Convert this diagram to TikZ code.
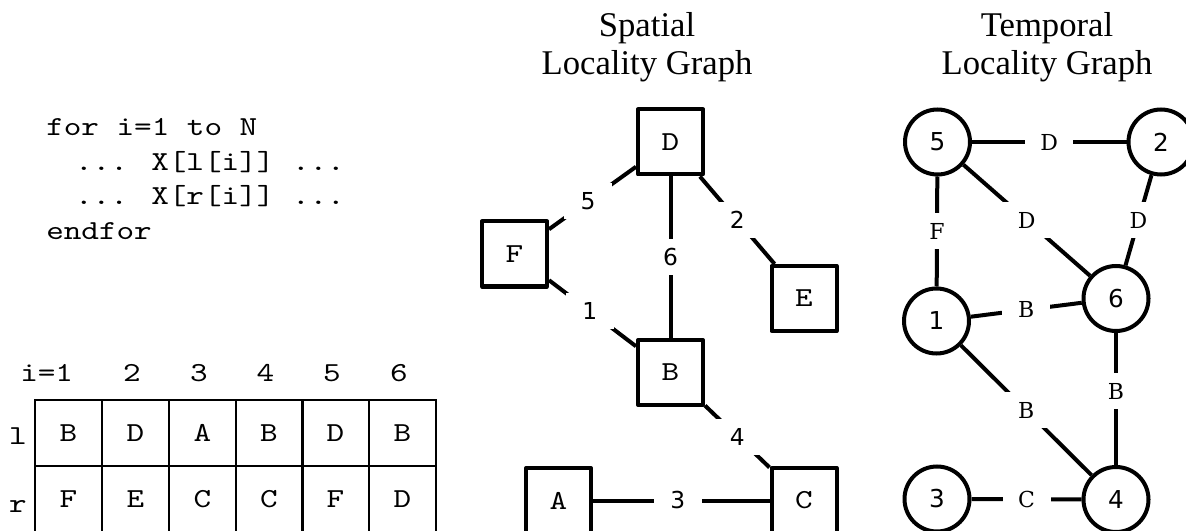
\documentclass[tikz,border=0pt]{standalone}
\usepackage{fontspec}
\newfontfamily\codefont[FakeStretch=1.22]{lmmono10-regular.otf}
\newfontfamily\headfont{Liberation Serif}
\newfontfamily\numfont{DejaVu Sans}
\newfontfamily\serlabfont{DejaVu Serif}
\newcommand\monosize{\fontsize{20.6}{24}\selectfont}
\begin{document}
\begin{tikzpicture}[x=0.75pt,y=-0.75pt,
  codeline/.style={font=\codefont\monosize, inner sep=0pt, anchor=base west},
  headtext/.style={font=\headfont\fontsize{26}{30}\selectfont, inner sep=0pt, anchor=base},
  monotext/.style={font=\codefont\monosize, inner sep=0pt, anchor=base},
  tabcell/.style={draw, line width=1.5pt, minimum width=50.25pt, minimum height=50pt,
    inner sep=0pt, font=\codefont\monosize},
  sqnode/.style={draw, fill=white, line width=3pt, line join=round, minimum size=48.75pt,
    inner sep=0pt, font=\codefont\monosize},
  cnode/.style={circle, draw, fill=white, line width=3pt, minimum size=48.75pt,
    inner sep=0pt, font=\numfont\fontsize{18.5}{22}\selectfont},
  conn/.style={line width=3pt},
  slabel/.style={fill=white, minimum width=36pt, minimum height=27pt, inner sep=0pt,
    font=\numfont\fontsize{17.5}{20}\selectfont},
  tlabel/.style={slabel, font=\serlabfont\fontsize{16.5}{19}\selectfont},
]
\useasboundingbox (0,0) rectangle (1186,531);

% loop code
\node[codeline] (c1) at (46,136) {for i=1 to N};
\node[codeline] (c2) at (46,170.5) {\hspace*{1.05em}... X[l[i]] ...};
\node[codeline] (c3) at (46,205) {\hspace*{1.05em}... X[r[i]] ...};
\node[codeline] (c4) at (46,239.5) {endfor};

% index table
\node[monotext] (h1) at (46.7,381) {i=1};
\node[monotext] (h2) at (132,381) {2};
\node[monotext] (h3) at (199,381) {3};
\node[monotext] (h4) at (265.5,381) {4};
\node[monotext] (h5) at (332,381) {5};
\node[monotext] (h6) at (399,381) {6};
\node[monotext] (rl) at (18,444) {l};
\node[monotext] (rr) at (18,512) {r};
\foreach \x/\a/\b [count=\i] in {68.5/B/F, 135.5/D/E, 202.5/A/C, 269/B/C, 335.5/D/F, 402.5/B/D}{
  \node[tabcell] (l\i) at (\x,433) {\a};
  \node[tabcell] (r\i) at (\x,499.5) {\b};
}

% spatial locality graph
\node[headtext] (st1) at (647,37) {Spatial};
\node[headtext] (st2) at (647,75) {Locality Graph};
\node[sqnode] (D) at (670.5,142) {D};
\node[sqnode] (F) at (514.5,254) {F};
\node[sqnode] (E) at (804,298.5) {E};
\node[sqnode] (B) at (670.5,372.5) {B};
\node[sqnode] (A) at (558.5,500.5) {A};
\node[sqnode] (C) at (804,500.5) {C};
\draw[conn] (D) -- node[slabel, pos=0.55] {5} (F);
\draw[conn] (D) -- node[slabel] {6} (B);
\draw[conn] (D) -- node[slabel] {2} (E);
\draw[conn] (F) -- node[slabel, pos=0.47] {1} (B);
\draw[conn] (B) -- node[slabel] {4} (C);
\draw[conn] (A) -- node[slabel, pos=0.48] {3} (C);

% temporal locality graph
\node[headtext] (tt1) at (1047,37) {Temporal};
\node[headtext] (tt2) at (1047,75) {Locality Graph};
\node[cnode] (n5) at (937.5,142) {5};
\node[cnode] (n2) at (1161,142) {2};
\node[cnode] (n6) at (1116,298.5) {6};
\node[cnode] (n1) at (936.5,321) {1};
\node[cnode] (n3) at (937,499) {3};
\node[cnode] (n4) at (1116,499.5) {4};
\draw[conn] (n5) -- node[tlabel] {D} (n2);
\draw[conn] (n5) -- node[tlabel] {F} (n1);
\draw[conn] (n5) -- node[tlabel] {D} (n6);
\draw[conn] (n2) -- node[tlabel] {D} (n6);
\draw[conn] (n1) -- node[tlabel] {B} (n6);
\draw[conn] (n1) -- node[tlabel] {B} (n4);
\draw[conn] (n6) -- node[tlabel, pos=0.44] {B} (n4);
\draw[conn] (n3) -- node[tlabel] {C} (n4);
\end{tikzpicture}
\end{document}
